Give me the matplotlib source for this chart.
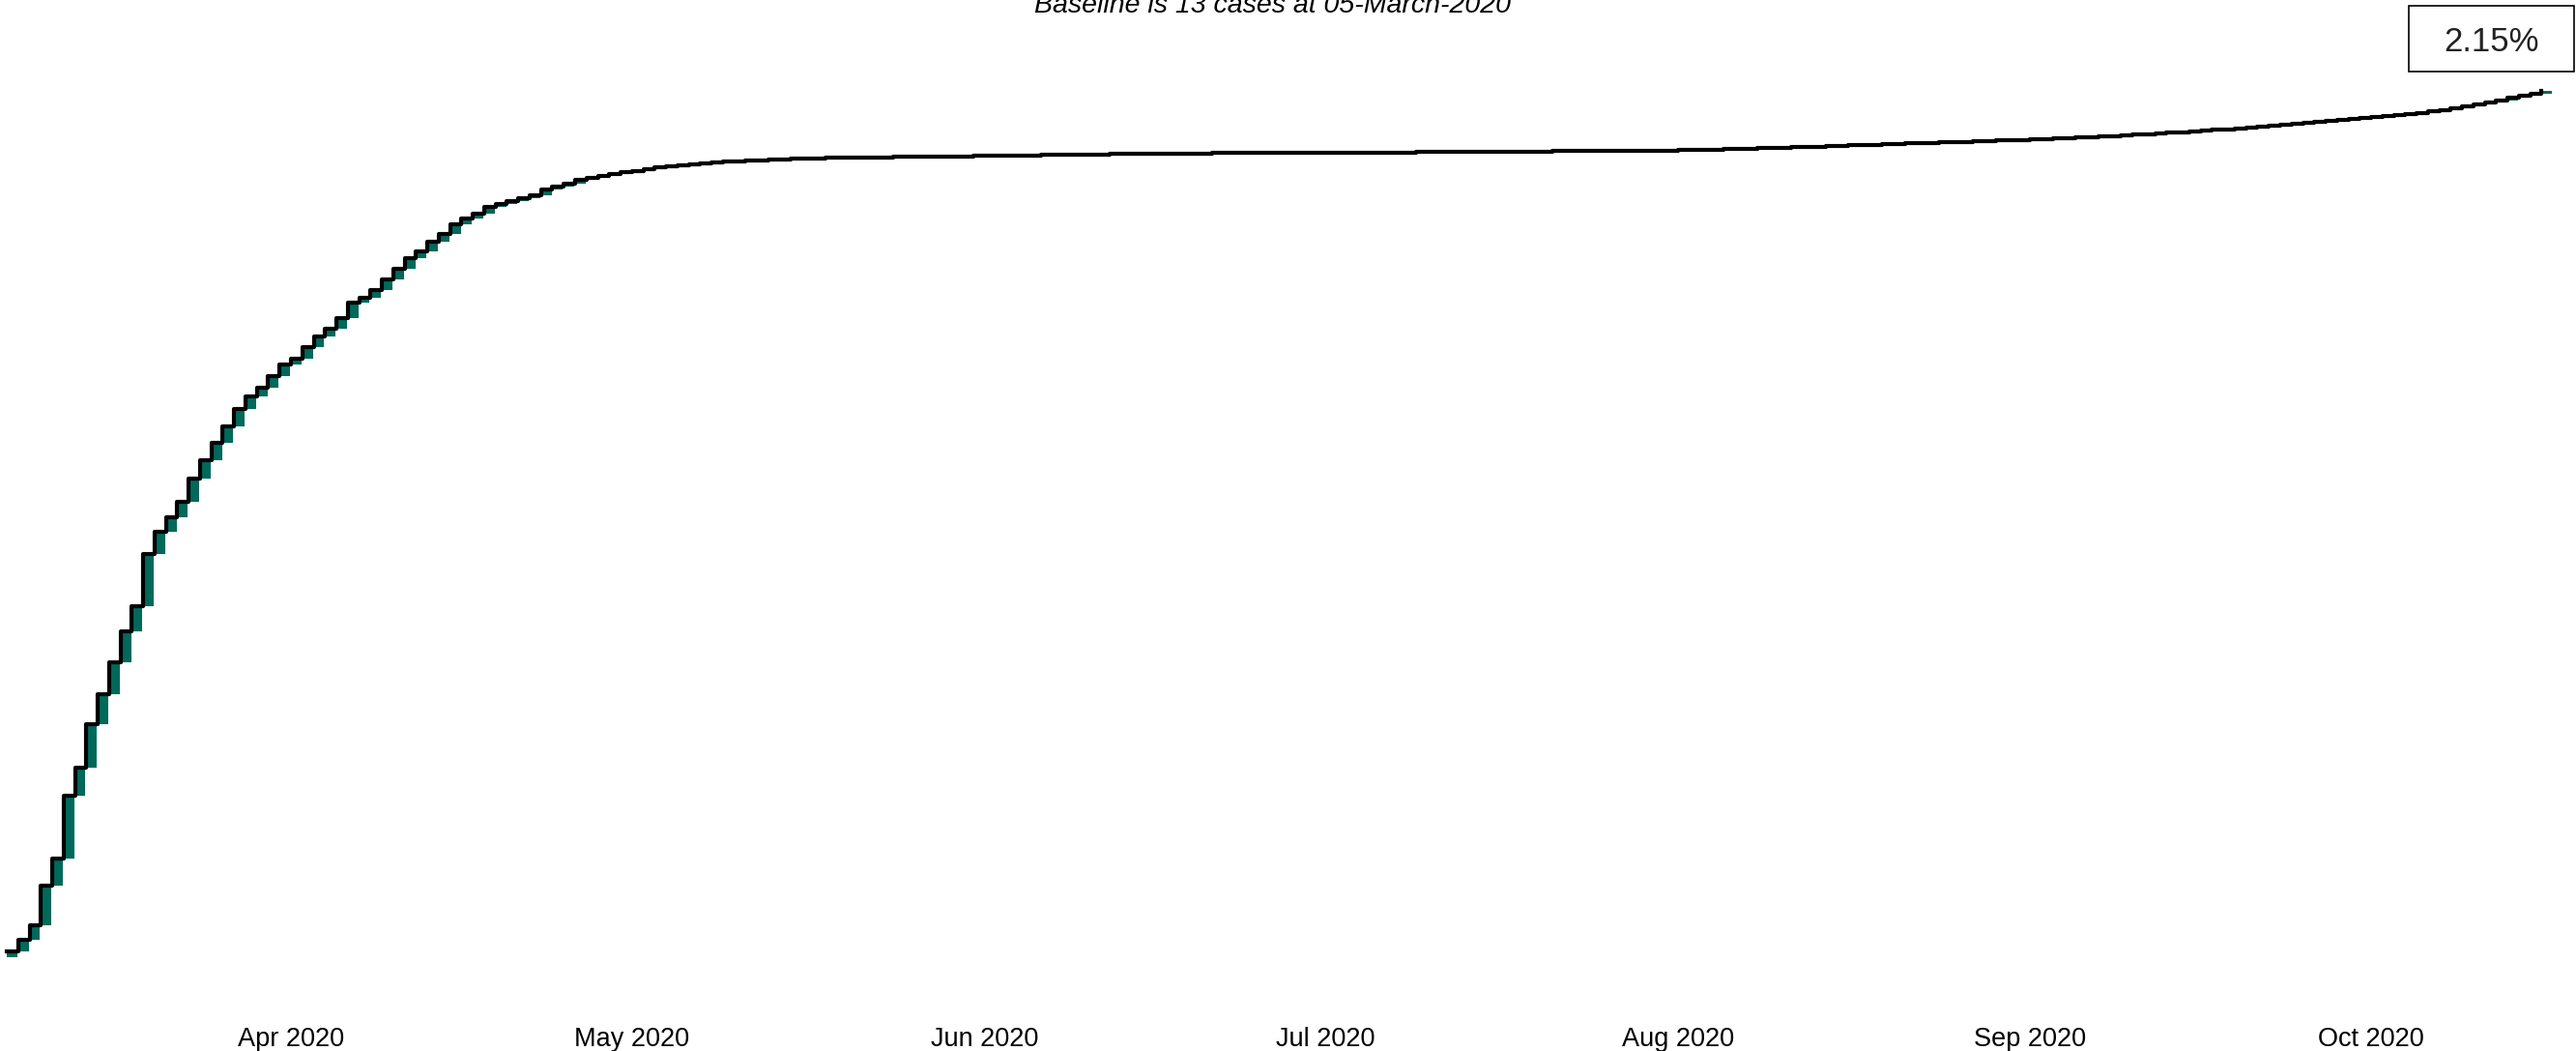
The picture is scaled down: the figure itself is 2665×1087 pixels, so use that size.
import numpy as np
import pandas as pd
import matplotlib
matplotlib.use('Agg')
import matplotlib.pyplot as plt
import matplotlib.dates as mdates
from matplotlib.patches import Rectangle

plt.rcParams['font.family'] = ['Liberation Sans', 'DejaVu Sans']

# cumulative cases (log scale), starting 07-March-2020
start_date = '2020-03-07'
cases_before_start = 18
daily_new = [
    1, 2, 3, 10, 9, 32, 21, 45, 43, 59, 77, 79, 233, 137, 105, 128, 228, 216, 240, 263,
    324, 266, 203, 296, 327, 176, 382, 386, 304, 455, 738, 253, 430, 637, 700, 771, 528,
    813, 702, 950, 610, 530, 780, 350, 360, 360, 380, 790, 410, 420, 570,
    300, 300, 300, 310, 160, 320, 320, 170, 160, 170, 170, 170, 90, 80, 90, 90, 80, 90, 90, 90,
    45, 38, 30, 25, 35, 28, 33, 24, 30, 27, 35, 22, 31, 30,
    32, 28, 35, 26, 30, 29, 33, 27, 30, 31, 28, 34, 25, 30, 29, 32, 28,
    12, 8, 10, 11, 9, 13, 7, 10, 12, 9, 8, 11, 10, 9, 12, 10, 8, 11, 9, 13, 10, 8, 12, 10, 9, 9,
    15, 20, 14, 18, 22, 16, 19, 17, 21, 15, 18, 20, 16, 19, 18, 22, 17, 16, 19,
    40, 45, 48, 52, 50, 58, 55, 62, 60, 66, 70, 68, 74, 72, 78, 82, 80, 86, 90,
    70, 75, 72, 78, 74, 80, 76, 82, 78, 84, 80, 86, 82, 88, 90,
    100, 108, 115, 120, 126, 130, 136, 140, 148, 152, 160,
    160, 170, 178, 185, 190, 198, 205, 212, 218, 225,
    220, 230, 240, 250, 258, 265, 272, 280, 290, 300, 310,
    400, 440, 480, 520, 550,
    600, 650, 690, 730, 760, 790,
]

dates = pd.date_range(start_date, periods=len(daily_new), freq='D')
x = mdates.date2num(dates)
cumulative = cases_before_start + np.cumsum(daily_new)
previous = np.concatenate([[cases_before_start], cumulative[:-1]])
growth = (cumulative[-1] / cumulative[-2] - 1) * 100

W, H = 2665, 1087
fig = plt.figure(figsize=(W / 100, H / 100), dpi=100)
ax = fig.add_axes([0, 47 / H, 1, 1040 / H])

ax.bar(x, cumulative - previous, bottom=previous, width=0.93, align='edge',
       color='#00695a', linewidth=0)
ax.step(x, cumulative, where='post', color='black', linewidth=3.0)

ax.set_yscale('log')
ax.set_ylim(11.79, 83780)
ax.set_xlim(x[0] - 0.595, x[0] + 226.02)

ax.xaxis.set_major_locator(mdates.MonthLocator())
ax.xaxis.set_major_formatter(mdates.DateFormatter('%b %Y'))
ax.tick_params(axis='x', length=0, pad=16, labelsize=19.5, colors='black')
ax.yaxis.set_visible(False)
for s in ax.spines.values():
    s.set_visible(False)

fig.text(1316 / W, 1 - 12.7 / H, 'Baseline is 13 cases at 05-March-2020',
         ha='center', va='baseline', fontsize=20.5, style='italic')

box = Rectangle((2492 / W, 1 - 74 / H), 171 / W, 68 / H, transform=fig.transFigure,
                facecolor='white', edgecolor='black', linewidth=1.2)
fig.add_artist(box)
fig.text(2577.5 / W, 1 - 53 / H, '{:.2f}%'.format(growth), ha='center', va='baseline',
         fontsize=25, color='#222222')

fig.savefig('out.png', dpi=100)
